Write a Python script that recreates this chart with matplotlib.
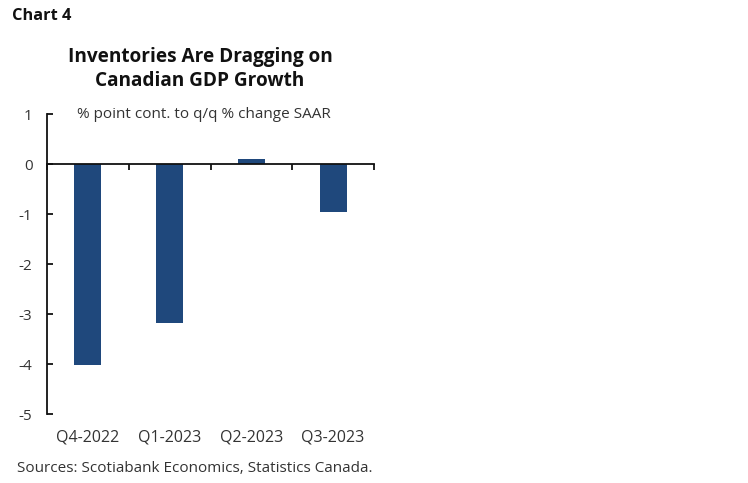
import matplotlib
matplotlib.use("Agg")
import matplotlib.pyplot as plt
import numpy as np

categories = ["Q4-2022", "Q1-2023", "Q2-2023", "Q3-2023"]
values = [-4.02, -3.17, 0.11, -0.96]
yticks = [1, 0, -1, -2, -3, -4, -5]

plt.rcParams['font.family'] = ['Open Sans', 'DejaVu Sans']

fig = plt.figure(figsize=(7.48, 4.83), dpi=100)
ax = fig.add_axes([47/748, 1-414/483, (374-47)/748, (414-114)/483])

x = np.arange(len(categories))
ax.bar(x, values, width=0.33, color='#1F487C', zorder=2)
ax.set_xlim(-0.5, len(categories)-0.5)
ax.set_ylim(-5, 1)

for s in ['top', 'right']:
    ax.spines[s].set_visible(False)
ax.spines['bottom'].set_position(('data', 0))
ax.spines['left'].set_linewidth(1.3)
ax.spines['bottom'].set_linewidth(1.3)
ax.spines['left'].set_color('#111111')
ax.spines['bottom'].set_color('#111111')

ax.set_yticks(yticks)
ax.set_yticklabels([str(v) for v in yticks])
ax.tick_params(axis='y', direction='in', length=4, width=1.3, pad=10.5,
               labelsize=11, labelcolor='#333333', color='#111111')
ax.set_xticks(np.arange(len(categories)+1) - 0.5)
ax.set_xticklabels([])
ax.tick_params(axis='x', direction='out', length=4, width=1.3, color='#111111')

for xi, lab in zip(x, categories):
    ax.text(xi, -0.077, lab, transform=ax.get_xaxis_transform(),
            ha='center', va='center', fontsize=11.5, color='#333333')

ax.text(0.479, 1.0, "% point cont. to q/q % change SAAR", transform=ax.transAxes,
        ha='center', va='center', fontsize=11, color='#333333')

fig.text(12/748, 1-16/483, "Chart 4", ha='left', va='center',
         fontsize=11.8, fontweight='bold', color='#111111')
fig.text(200/748, 1-69/483, "Inventories Are Dragging on\nCanadian GDP Growth",
         ha='center', va='center', fontsize=13.7, fontweight='bold',
         color='#111111', linespacing=1.25)
fig.text(17/748, 1-468/483, "Sources: Scotiabank Economics, Statistics Canada.",
         ha='left', va='center', fontsize=11, color='#333333')

fig.savefig("out.png", dpi=100)
